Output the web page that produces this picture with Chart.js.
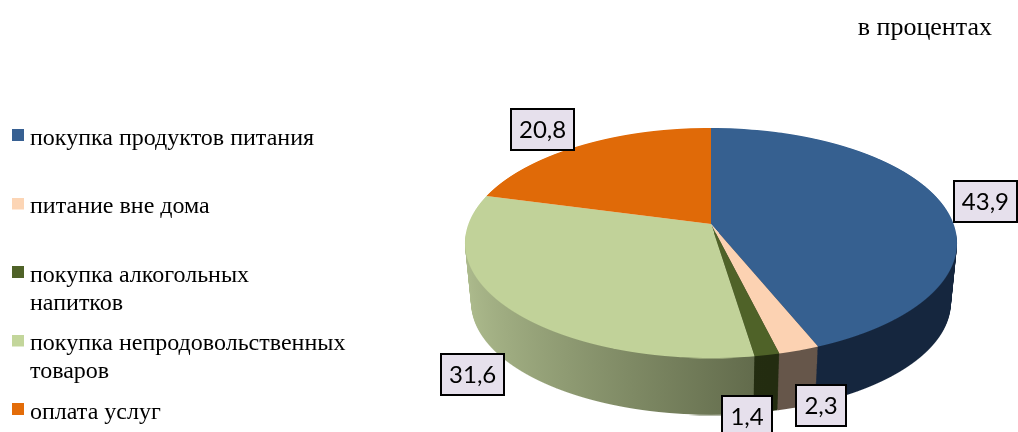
<!DOCTYPE html>
<html lang="ru">
<head>
<meta charset="utf-8">
<style>html,body{margin:0;background:#fff}canvas{display:block}</style>
<script src="https://cdn.jsdelivr.net/npm/chart.js@4"></script>
</head>
<body>
<canvas id="c" width="1018" height="432"></canvas>
<script>
const categories = [
  ["покупка продуктов питания", ""],
  ["питание вне дома", ""],
  ["покупка алкогольных", "напитков"],
  ["покупка непродовольственных", "товаров"],
  ["оплата услуг"]
];
const values = [43.9, 2.3, 1.4, 31.6, 20.8];
const legendColors = ["#376092", "#fcd5b5", "#4f6228", "#c3d69b", "#e36c09"];
const topColors = ["#366090", "#fcd2b2", "#4f6228", "#c1d299", "#e06a08"];
const sideStops = [
  ["#1a3050", "#15263e"],
  ["#8a7565", "#66564a"],
  ["#2f3a17", "#232c10"],
  ["#aebc8e", "#5f6849"],
  ["#a85007", "#8a4206"]
];
const labelOffsets = [[43.5, -2], [22, 55], [-20, 61], [-35, 66.5], [-38, -16]];
const titleText = "в процентах";

// pie projection: a tilted disc seen in perspective
const view = { cx: 711, apexY: 224, A: 111.9, B: -0.1652, C: 242.6, depth: 60, shrink: 0.025 };

function project(u, v) {
  const D = 1 + view.B * v;
  return [view.cx + view.C * u / D, view.apexY + view.A * v / D];
}

function drawDisc(ctx, arcs, d, k, fromY, pick) {
  const { cx, apexY, A, B, C } = view;
  const top = Math.floor(apexY + d - 96 * k), bottom = Math.ceil(apexY + d + 134 * k);
  for (let Y = Math.max(top, fromY); Y <= bottom; Y++) {
    const t = (Y + 0.5 - apexY - d) / (A * k);
    let v = t / (1 - B * t);
    if (v < -1 || v > 1) v = Math.max(-1, Math.min(1, v));
    const D = 1 + B * v;
    arcs.forEach((arc, i) => {
      const r = arc.outerRadius;
      const sx = k * C / D / r, sy = k * A / (D * D) / r;
      ctx.save();
      ctx.setTransform(1, 0, 0, 1, 0, 0);
      ctx.beginPath();
      ctx.rect(0, Y, 1018, 1);
      ctx.clip();
      ctx.setTransform(sx, 0, 0, sy, cx - sx * arc.x, Y + 0.5 - sy * (arc.y + r * v));
      const base = arc.options;
      const fill = pick ? pick(i) : null;
      if (fill) arc.options = Object.create(base, { backgroundColor: { value: fill } });
      arc.draw(ctx);
      arc.options = base;
      ctx.restore();
    });
  }
}

const pie3d = {
  id: "pie3d",
  afterLayout(chart) {
    chart.legend.top += 12;
    chart.legend.bottom += 12;
  },
  beforeDatasetsDraw(chart) {
    const ctx = chart.ctx;
    const arcs = chart.getDatasetMeta(0).data;
    const r = arcs[0].outerRadius, ax = arcs[0].x;
    const grads = sideStops.map(s => {
      const g = ctx.createLinearGradient(ax - r, 0, ax + r * 0.2, 0);
      g.addColorStop(0, s[0]);
      g.addColorStop(1, s[1]);
      return g;
    });
    for (let d = view.depth; d >= 1; d--) {
      const k = 1 - view.shrink * d / view.depth;
      drawDisc(ctx, arcs, d, k, view.apexY + d + 8, i => grads[i]);
    }
    drawDisc(ctx, arcs, 0, 1, 0, null);
    return false;
  },
  afterDraw(chart) {
    const ctx = chart.ctx;
    const arcs = chart.getDatasetMeta(0).data;
    ctx.save();
    ctx.font = "24px Lato";
    ctx.textAlign = "center";
    ctx.textBaseline = "middle";
    arcs.forEach((arc, i) => {
      const mid = (arc.startAngle + arc.endAngle) / 2;
      const p = project(Math.cos(mid), Math.sin(mid));
      const x = p[0] + labelOffsets[i][0], y = p[1] + labelOffsets[i][1];
      const text = values[i].toFixed(1).replace(".", ",");
      const h = 41;
      const bw = text.length > 3 ? 63 : 50;
      ctx.fillStyle = "#e6e0ec";
      ctx.strokeStyle = "#000";
      ctx.lineWidth = 2;
      ctx.fillRect(Math.round(x - bw / 2), Math.round(y - h / 2), bw, h);
      ctx.strokeRect(Math.round(x - bw / 2), Math.round(y - h / 2), bw, h);
      ctx.fillStyle = "#000";
      ctx.fillText(text, x, y + 1);
    });
    ctx.restore();
  }
};

function swatch(color) {
  const s = document.createElement("canvas");
  s.width = 12; s.height = 19;
  const c = s.getContext("2d");
  c.fillStyle = color;
  c.fillRect(0, 0, 12, 12);
  return s;
}

new Chart(document.getElementById("c"), {
  type: "pie",
  data: {
    labels: categories,
    datasets: [{ data: values, backgroundColor: topColors, borderWidth: 0 }]
  },
  options: {
    responsive: false,
    animation: false,
    layout: { padding: { left: 5.5, right: 26, top: 0, bottom: 0 } },
    plugins: {
      tooltip: { enabled: false },
      title: {
        display: true,
        text: titleText,
        align: "end",
        color: "#000",
        font: { family: "'Liberation Serif'", size: 26, weight: "normal", lineHeight: 28 / 26 },
        padding: { top: 14, bottom: 60 }
      },
      legend: {
        position: "left",
        align: "start",
        fullSize: false,
        labels: {
          usePointStyle: true,
          pointStyleWidth: 0.01,
          padding: 12.5,
          color: "#000",
          font: { family: "'Liberation Serif'", size: 24, lineHeight: 28 / 24 },
          generateLabels(chart) {
            const items = Chart.overrides.pie.plugins.legend.labels.generateLabels(chart);
            items.forEach((it, i) => { it.pointStyle = swatch(legendColors[i]); });
            return items;
          }
        }
      }
    }
  },
  plugins: [pie3d]
});
</script>
</body>
</html>
